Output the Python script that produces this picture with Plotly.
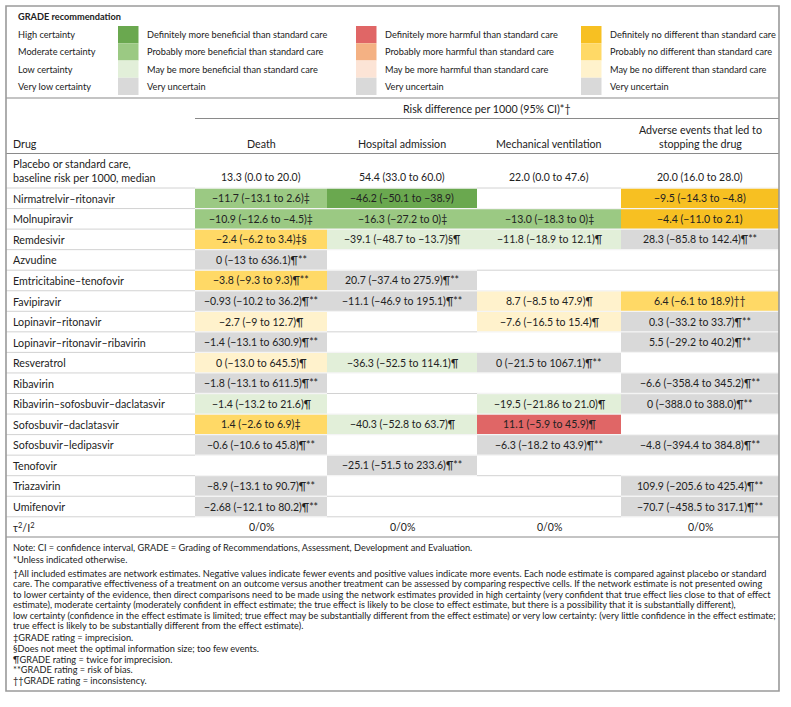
import plotly.graph_objects as go

# ---------------- data ----------------
drugs = [
    "Nirmatrelvir–ritonavir", "Molnupiravir", "Remdesivir", "Azvudine",
    "Emtricitabine–tenofovir", "Favipiravir", "Lopinavir–ritonavir",
    "Lopinavir–ritonavir–ribavirin", "Resveratrol", "Ribavirin",
    "Ribavirin–sofosbuvir–daclatasvir", "Sofosbuvir–daclatasvir",
    "Sofosbuvir–ledipasvir", "Tenofovir", "Triazavirin", "Umifenovir",
]
outcomes = ["Death", "Hospital admission", "Mechanical ventilation",
            "Adverse events that led to<br>stopping the drug"]
baseline = ["13.3 (0.0 to 20.0)", "54.4 (33.0 to 60.0)",
            "22.0 (0.0 to 47.6)", "20.0 (16.0 to 28.0)"]
heterogeneity = ["0/0%", "0/0%", "0/0%", "0/0%"]

death_txt = ["−11.7 (−13.1 to 2.6)‡", "−10.9 (−12.6 to −4.5)‡", "−2.4 (−6.2 to 3.4)‡§",
             "0 (−13 to 636.1)¶**", "−3.8 (−9.3 to 9.3)¶**", "−0.93 (−10.2 to 36.2)¶**",
             "−2.7 (−9 to 12.7)¶", "−1.4 (−13.1 to 630.9)¶**", "0 (−13.0 to 645.5)¶",
             "−1.8 (−13.1 to 611.5)¶**", "−1.4 (−13.2 to 21.6)¶", "1.4 (−2.6 to 6.9)‡",
             "−0.6 (−10.6 to 45.8)¶**", "", "−8.9 (−13.1 to 90.7)¶**",
             "−2.68 (−12.1 to 80.2)¶**"]
death_cat = ["MB", "MB", "MN", "VU", "MN", "VU", "LN", "VU", "LN", "VU", "LB", "MN",
             "VU", "", "VU", "VU"]

hosp_txt = ["−46.2 (−50.1 to −38.9)", "−16.3 (−27.2 to 0)‡", "−39.1 (−48.7 to −13.7)§¶",
            "", "20.7 (−37.4 to 275.9)¶**", "−11.1 (−46.9 to 195.1)¶**", "", "",
            "−36.3 (−52.5 to 114.1)¶", "", "", "−40.3 (−52.8 to 63.7)¶", "",
            "−25.1 (−51.5 to 233.6)¶**", "", ""]
hosp_cat = ["HB", "MB", "LB", "", "VU", "VU", "", "", "LB", "", "", "LB", "", "VU", "", ""]

mech_txt = ["", "−13.0 (−18.3 to 0)‡", "−11.8 (−18.9 to 12.1)¶", "", "",
            "8.7 (−8.5 to 47.9)¶", "−7.6 (−16.5 to 15.4)¶", "", "0 (−21.5 to 1067.1)¶**",
            "", "−19.5 (−21.86 to 21.0)¶", "11.1 (−5.9 to 45.9)¶", "−6.3 (−18.2 to 43.9)¶**",
            "", "", ""]
mech_cat = ["", "MB", "LB", "", "", "LN", "LN", "", "VU", "", "LB", "HH", "VU", "", "", ""]

ae_txt = ["−9.5 (−14.3 to −4.8)", "−4.4 (−11.0 to 2.1)", "28.3 (−85.8 to 142.4)¶**", "", "",
          "6.4 (−6.1 to 18.9)††", "0.3 (−33.2 to 33.7)¶**", "5.5 (−29.2 to 40.2)¶**", "",
          "−6.6 (−358.4 to 345.2)¶**", "0 (−388.0 to 388.0)¶**", "",
          "−4.8 (−394.4 to 384.8)¶**", "", "109.9 (−205.6 to 425.4)¶**",
          "−70.7 (−458.5 to 317.1)¶**"]
ae_cat = ["HN", "HN", "VU", "", "", "MN", "VU", "VU", "", "VU", "VU", "", "VU", "",
          "VU", "VU"]

certainty_labels = ["High certainty", "Moderate certainty", "Low certainty", "Very low certainty"]
benefit_labels = ["Definitely more beneficial than standard care",
                  "Probably more beneficial than standard care",
                  "May be more beneficial than standard care", "Very uncertain"]
harm_labels = ["Definitely more harmful than standard care",
               "Probably more harmful than standard care",
               "May be more harmful than standard care", "Very uncertain"]
nodiff_labels = ["Definitely no different than standard care",
                 "Probably no different than standard care",
                 "May be no different than standard care", "Very uncertain"]

notes = [
    "Note: CI = confidence interval, GRADE = Grading of Recommendations, Assessment, Development and Evaluation.",
    "*Unless indicated otherwise.",
    "†All included estimates are network estimates. Negative values indicate fewer events and positive values indicate more events. Each node estimate is compared against placebo or standard",
    "care. The comparative effectiveness of a treatment on an outcome versus another treatment can be assessed by comparing respective cells. If the network estimate is not presented owing",
    "to lower certainty of the evidence, then direct comparisons need to be made using the network estimates provided in high certainty (very confident that true effect lies close to that of effect",
    "estimate), moderate certainty (moderately confident in effect estimate; the true effect is likely to be close to effect estimate, but there is a possibility that it is substantially different),",
    "low certainty (confidence in the effect estimate is limited; true effect may be substantially different from the effect estimate) or very low certainty: (very little confidence in the effect estimate;",
    "true effect is likely to be substantially different from the effect estimate).",
    "‡GRADE rating = imprecision.",
    "§Does not meet the optimal information size; too few events.",
    "¶GRADE rating = twice for imprecision.",
    "**GRADE rating = risk of bias.",
    "††GRADE rating = inconsistency.",
]

# ---------------- styling / layout ----------------
COLORS = {
    "HB": "#6aa84f", "MB": "#9bc983", "LB": "#e2efd9",
    "HH": "#e06666", "MH": "#f4b183", "LH": "#fce4d6",
    "HN": "#f7c022", "MN": "#ffd966", "LN": "#fff2cc",
    "VU": "#d9d9d9",
}
FONT = "Lato"
TXT = "#222222"
BORDER = "#9a9a9a"
W, H = 791, 707

SZ_LEGEND = 9.2
SZ_LABEL = 10.7
SZ_VALUE = 10.5
SZ_NOTE = 9.2

col_edges = [6, 195, 327, 477, 621, 779]
row_top0 = 188.0
row_h = 20.55
legend_top, legend_bot = 6, 98
notes_top, box_bot = 537, 691
note_y = [547, 559.5, 573, 583.5, 594, 604.5, 615, 625.5, 637.5, 648.3, 659, 669.7, 680.5]

fig = go.Figure()
shapes = []
ann = []


def text(x, y, s, size=SZ_LABEL, anchor="left", bold=False, color=TXT):
    ann.append(dict(x=x, y=y, xref="x", yref="y", text=("<b>%s</b>" % s) if bold else s,
                    showarrow=False, xanchor=anchor, yanchor="middle",
                    font=dict(family=FONT, size=size, color=color)))


def rect(x0, y0, x1, y1, fill, line=None, lw=0):
    shapes.append(dict(type="rect", xref="x", yref="y", x0=x0, y0=y0, x1=x1, y1=y1,
                       fillcolor=fill, line=dict(color=line or fill, width=lw),
                       layer="above"))


def hline(x0, x1, y, color, width=1):
    shapes.append(dict(type="line", xref="x", yref="y", x0=x0, x1=x1, y0=y, y1=y,
                       line=dict(color=color, width=width), layer="above"))


def center(j):
    return (col_edges[j + 1] + col_edges[j + 2]) / 2


# ---------------- legend ----------------
text(16, 16, "GRADE recommendation", size=SZ_LEGEND, bold=True)
sw_top, sw_h = 26, 17.25
for k in range(4):
    yc = sw_top + sw_h * (k + 0.5)
    text(16, yc, certainty_labels[k], size=SZ_LEGEND)
    for (sx, lab, cat) in [(118, benefit_labels[k], ["HB", "MB", "LB", "VU"][k]),
                           (356, harm_labels[k], ["HH", "MH", "LH", "VU"][k]),
                           (581, nodiff_labels[k], ["HN", "MN", "LN", "VU"][k])]:
        rect(sx, sw_top + sw_h * k, sx + 20.5, sw_top + sw_h * (k + 1), COLORS[cat])
        text(sx + 27, yc, lab, size=SZ_LEGEND)

# ---------------- header ----------------
text((col_edges[1] + col_edges[5]) / 2, 108, "Risk difference per 1000 (95% CI)*†", anchor="center")
hline(col_edges[1], col_edges[5], 118.5, "#8a8a8a", 1)
text(11, 143, "Drug")
for j, o in enumerate(outcomes):
    text(center(j), 136 if "<br>" in o else 143, o, anchor="center")
hline(col_edges[0], col_edges[5], 153.5, "#8a8a8a", 1.2)

# placebo row
text(11, 163, "Placebo or standard care,")
text(11, 177, "baseline risk per 1000, median")
for j, b in enumerate(baseline):
    text(center(j), 177, b, size=SZ_VALUE, anchor="center")

# ---------------- body ----------------
cols_txt = [death_txt, hosp_txt, mech_txt, ae_txt]
cols_cat = [death_cat, hosp_cat, mech_cat, ae_cat]
n = len(drugs)
for i, d in enumerate(drugs):
    y0 = row_top0 + i * row_h
    y1 = y0 + row_h
    yc = (y0 + y1) / 2
    text(11, yc, d)
    for j in range(4):
        cat = cols_cat[j][i]
        if cat:
            rect(col_edges[j + 1], y0, col_edges[j + 2], y1, COLORS[cat])
        if cols_txt[j][i]:
            text(center(j), yc, cols_txt[j][i], size=SZ_VALUE, anchor="center")

# separators between rows
for i in range(n + 1):
    yb = row_top0 + i * row_h
    hline(col_edges[0], col_edges[1], yb, "#d2d2d2", 1)
    for j in range(4):
        above = cols_cat[j][i - 1] if i >= 1 else ""
        below = cols_cat[j][i] if i < n else ""
        if above or below:
            hline(col_edges[j + 1], col_edges[j + 2], yb, "#f4f4f4", 1.3)
        else:
            hline(col_edges[j + 1], col_edges[j + 2], yb, "#d2d2d2", 1)

# heterogeneity row
ty = row_top0 + n * row_h + row_h / 2
text(11, ty, "τ<sup>2</sup>/I<sup>2</sup>")
for j, h in enumerate(heterogeneity):
    text(center(j), ty, h, size=SZ_VALUE, anchor="center")

# ---------------- notes ----------------
hline(col_edges[0], col_edges[5], notes_top, "#8a8a8a", 1.2)
for line, yy in zip(notes, note_y):
    text(11, yy, line, size=SZ_NOTE)

# frame
hline(col_edges[0], col_edges[5], legend_bot, "#8a8a8a", 1.2)
rect(col_edges[0], legend_top, col_edges[5], box_bot, "rgba(0,0,0,0)", BORDER, 1.6)

fig.update_layout(
    width=W, height=H, margin=dict(l=0, r=0, t=0, b=0),
    paper_bgcolor="white", plot_bgcolor="white",
    xaxis=dict(range=[0, W], visible=False, fixedrange=True),
    yaxis=dict(range=[H, 0], visible=False, fixedrange=True),
    shapes=shapes, annotations=ann, showlegend=False,
)
fig.write_html("out.html", config={"displayModeBar": False},
               post_script="document.body.style.margin='0';document.body.style.overflow='hidden';")
